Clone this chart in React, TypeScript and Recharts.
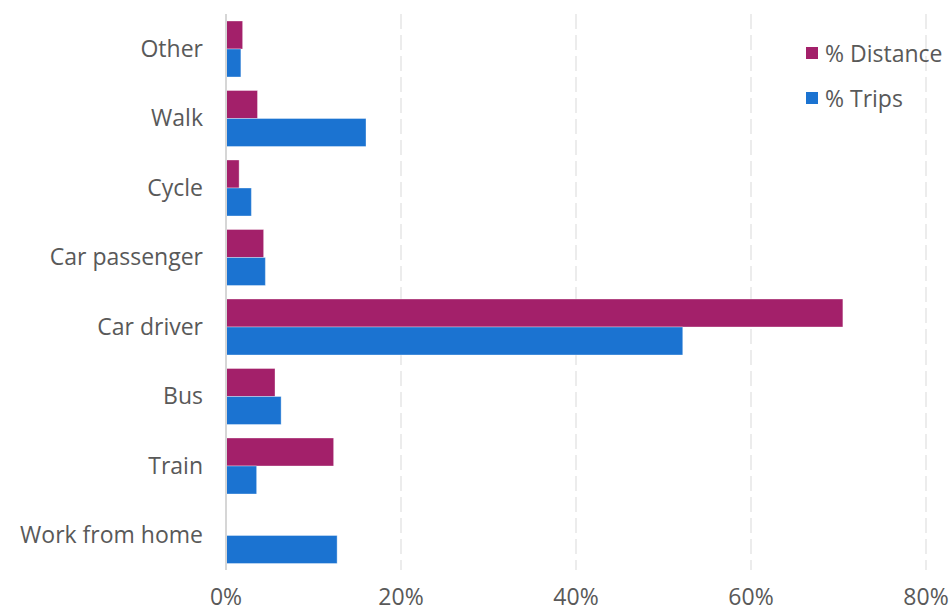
import { Bar, BarChart, CartesianGrid, XAxis, YAxis } from 'recharts';

const modes = ['Other', 'Walk', 'Cycle', 'Car passenger', 'Car driver', 'Bus', 'Train', 'Work from home'];
const distancePct = [1.9, 3.6, 1.5, 4.3, 70.5, 5.6, 12.3, 0];
const tripsPct = [1.7, 16.0, 2.9, 4.5, 52.2, 6.3, 3.5, 12.7];
const xTicks = [0, 20, 40, 60, 80];
const seriesNames = ['% Distance', '% Trips'];

const DISTANCE = '#a3206a';
const TRIPS = '#1b73d1';
const TEXT = '#595959';
const FONT = '"Open Sans", sans-serif';

const data = modes.map((mode, i) => ({
  mode,
  distance: distancePct[i],
  trips: tripsPct[i],
}));

// legend drawn as an overlay so it doesn't squeeze the plot area
function LegendBox() {
  const colors = [DISTANCE, TRIPS];
  return (
    <div
      style={{
        position: 'absolute',
        top: 30,
        left: 806,
        fontFamily: FONT,
        fontSize: 23,
        color: TEXT,
      }}
    >
      {seriesNames.map((name, i) => (
        <div key={name} style={{ display: 'flex', alignItems: 'center', height: 45 }}>
          <span style={{ width: 12, height: 12, background: colors[i], marginRight: 7 }} />
          <span>{name}</span>
        </div>
      ))}
    </div>
  );
}

export default function App() {
  return (
    <div style={{ position: 'relative', width: 951, height: 611, background: '#fff' }}>
      <style>{`body{margin:0}`}</style>
      <BarChart
        width={951}
        height={611}
        data={data}
        layout="vertical"
        margin={{ top: 14, right: 25, bottom: 0, left: 0 }}
        barGap={0}
        barSize={28}
      >
        <CartesianGrid
          horizontal={false}
          stroke="#ececec"
          strokeWidth={2}
          strokeDasharray="15 6"
        />
        <XAxis
          type="number"
          domain={[0, 80]}
          ticks={xTicks}
          tickFormatter={(v) => `${v}%`}
          axisLine={false}
          tickLine={false}
          tickSize={0}
          tickMargin={19}
          height={41}
          interval={0}
          tick={{ fontSize: 23, fill: TEXT, fontFamily: FONT }}
        />
        <YAxis
          type="category"
          dataKey="mode"
          width={226}
          axisLine={{ stroke: '#d6d6d6', strokeWidth: 2 }}
          tickLine={false}
          tickSize={0}
          tickMargin={23}
          interval={0}
          tick={{ fontSize: 23, fill: TEXT, fontFamily: FONT }}
        />
        <Bar
          dataKey="distance"
          name={seriesNames[0]}
          fill={DISTANCE}
          stroke="#ffffff"
          strokeOpacity={0.35}
          strokeWidth={1}
          isAnimationActive={false}
        />
        <Bar
          dataKey="trips"
          name={seriesNames[1]}
          fill={TRIPS}
          stroke="#ffffff"
          strokeOpacity={0.35}
          strokeWidth={1}
          isAnimationActive={false}
        />
      </BarChart>
      <LegendBox />
    </div>
  );
}
